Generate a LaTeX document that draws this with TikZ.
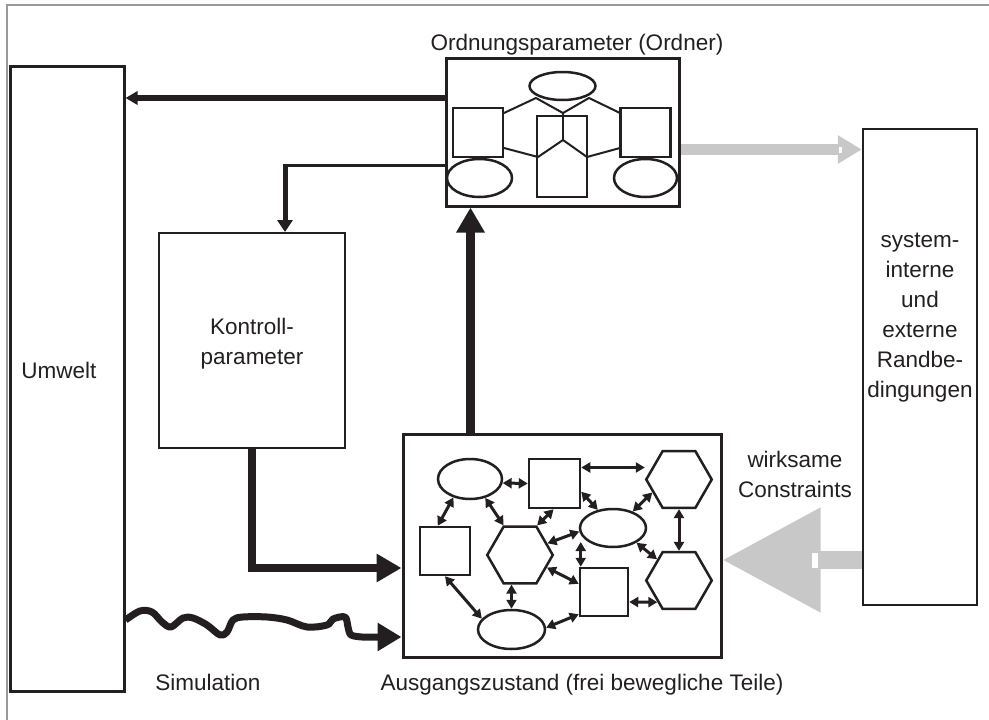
\documentclass[tikz,border=0pt]{standalone}
\usepackage{fontspec}
\setmainfont{Liberation Sans}
\usetikzlibrary{arrows.meta,shapes.geometric}
\definecolor{ink}{HTML}{231F20}
\definecolor{shade}{HTML}{C8C8C8}
\definecolor{framegray}{HTML}{9A9A9A}

\begin{document}
\begin{tikzpicture}[x=1pt,y=-1pt,
  lbl/.style={text=ink, font=\fontsize{22.5}{30}\selectfont, inner sep=0pt},
  box/.style={draw=ink, line width=2.5pt, inner sep=0pt, rectangle},
  part/.style={draw=ink, line width=2.5pt, inner sep=0pt},
  sq/.style={part, rectangle},
  ell/.style={part, ellipse},
  hex/.style={part, regular polygon, regular polygon sides=6, minimum size=65.5pt},
  link/.style={draw=ink, line width=2pt, line join=round},
  dbl/.style={draw=ink, line width=3pt, {Triangle[length=9pt,width=10pt]}-{Triangle[length=9pt,width=10pt]}},
  flow/.style={draw=ink, line cap=butt, line join=miter},
  greyflow/.style={draw=shade, line cap=butt},
]
\useasboundingbox (0,0) rectangle (989,720);

% page frame (top and left edge only)
\draw[framegray, line width=1.5pt] (989,5) -- (7,5) -- (7,720);

% main boxes
\node[box, line width=3pt, minimum width=114pt, minimum height=625pt] (Umwelt) at (67,378.5) {};
\node[box, line width=3pt, minimum width=233pt, minimum height=148pt] (Ordner) at (562.5,132) {};
\node[box, line width=2pt, minimum width=186pt, minimum height=215pt] (Kontroll) at (252,340.5) {};
\node[box, line width=3pt, minimum width=318pt, minimum height=223pt] (Ausgang) at (562,545.5) {};
\node[box, line width=2.5pt, minimum width=114pt, minimum height=476pt] (Rand) at (920,367) {};

% labels
\node[lbl, anchor=base] (tUmwelt) at (59,378) {Umwelt};
\node[lbl, align=center] (tKontroll) at (252,344) {Kontroll-\\parameter};
\node[lbl, anchor=base] (tOrdner) at (577,50.5) {Ordnungsparameter (Ordner)};
\node[lbl, anchor=base] (tAusgang) at (582,690) {Ausgangszustand (frei bewegliche Teile)};
\node[lbl, anchor=base] (tSim) at (208,690) {Simulation};
\node[lbl, align=center] (tRand) at (920,318)
  {system-\\interne\\und\\externe\\Randbe-\\dingungen};
\node[lbl, align=center] (tConstr) at (795,474)
  {wirksame\\Constraints};

% order parameter pictogram
\node[ell, minimum width=66pt, minimum height=28pt] (oTop) at (562.5,86) {};
\node[sq, minimum width=50pt, minimum height=49pt] (oLeft) at (478,132.5) {};
\node[sq, minimum width=50pt, minimum height=49pt] (oRight) at (645.5,132.5) {};
\node[sq, minimum width=50pt, minimum height=81pt] (oMid) at (562,156.5) {};
\node[ell, minimum width=65pt, minimum height=38pt] (oBL) at (479.5,178) {};
\node[ell, minimum width=63pt, minimum height=38pt] (oBR) at (645.5,178) {};
\draw[link] (504,113) -- (536,98) -- (563,113) -- (589,98) -- (620,113);
\draw[link] (563,113) -- (563,140);
\draw[link] (504,148) -- (538,157) -- (563,140) -- (587,157) -- (620,148);

% freely moving parts
\node[ell, minimum width=64pt, minimum height=40pt] (e1) at (470,479) {};
\node[sq, minimum width=51pt, minimum height=49pt] (s1) at (554.5,483.5) {};
\node[hex] (h1) at (679,479.5) {};
\node[sq, minimum width=50pt, minimum height=48pt] (s2) at (445,551) {};
\node[hex] (h2) at (520,555) {};
\node[ell, minimum width=66pt, minimum height=38pt] (e2) at (613,528) {};
\node[hex] (h3) at (679,580.5) {};
\node[sq, minimum width=48pt, minimum height=48pt] (s3) at (604,592) {};
\node[ell, minimum width=67pt, minimum height=39pt] (e3) at (511.5,629.5) {};

\draw[dbl] (e1.353) -- (s1.west);
\draw[dbl] ([yshift=16pt]s1.east) -- ([yshift=12pt]h1.west);
\draw[dbl] (e1.228) -- (s2.106);
\draw[dbl] (e1.309) -- (h2.119);
\draw[dbl] (s1.268) -- (h2.60);
\draw[dbl] (s1.343) -- (e2.130);
\draw[dbl] (h1.206) -- (e2.40);
\draw[dbl] (h1.south) -- (h3.north);
\draw[dbl] (h2.23) -- (e2.186);
\draw[dbl] (e2.328) -- (h3.136);
\draw[dbl] ([xshift=2pt,yshift=-14pt]e2.west) -- ([xshift=2pt]s3.north west);
\draw[dbl] (h2.335) -- (s3.162);
\draw[dbl] (e3.north |- h2.south) -- (e3.north);
\draw[dbl] (s2.south) -- (e3.160);
\draw[dbl] (e3.3) -- ([yshift=3pt]s3.south west);
\draw[dbl] ([yshift=-10pt]s3.east) -- (h3.225);

% connectors between the main boxes
\coordinate (ow1) at ([yshift=34pt]Ordner.west);
\draw[flow, line width=6pt, -{Triangle[length=12pt,width=13pt]}] (ow1) -- (ow1 -| Umwelt.east);

\coordinate (ow2) at ([yshift=-33pt]Ordner.west);
\coordinate (kn) at ([xshift=33pt]Kontroll.north);
\coordinate (bend) at (ow2 -| kn);
\draw[flow, line width=3pt] (ow2) -- ([xshift=-2.5pt]bend);
\draw[flow, line width=5pt, -{Triangle[length=12pt,width=15pt]}] ([yshift=1.5pt]bend) -- (kn);

\coordinate (aw1) at ([yshift=-22.5pt]Ausgang.west);
\draw[flow, line width=8pt, -{Triangle[length=25pt,width=27pt]}] (Kontroll.south) |- (aw1);

\coordinate (ue) at ([yshift=-241.5pt]Umwelt.east);
\coordinate (aw2) at ([yshift=-91.5pt]Ausgang.west);
\draw[flow, line width=7pt, line join=round, -{Triangle[length=24pt,width=27pt]}]
  plot[smooth, tension=0.55] coordinates {(ue) (140,611) (152,612) (162,622) (171,627)
    (183,618) (193,618) (207,625) (220,635) (227,632) (233,620) (243,617) (267,617)
    (287,620) (307,627) (327,625) (333,619) (345,617) (348,627) (351,635) (362,637)} -- (aw2);

\coordinate (an) at ([xshift=-91.5pt]Ausgang.north);
\draw[flow, line width=9pt, -{Triangle[length=25pt,width=27pt]}] (an) -- (an |- Ordner.south);

% grey arrows to and from the boundary conditions
\coordinate (oe) at ([yshift=-17.5pt]Ordner.east);
\coordinate (rt) at (oe -| Rand.west);
\draw[greyflow, line width=11pt, -{Triangle[length=24pt,width=27pt]}] (oe) -- (rt);
\fill[white] ([xshift=-23pt,yshift=-3pt]rt) rectangle ([xshift=-19.5pt,yshift=3pt]rt);

\coordinate (rw) at ([yshift=-193pt]Rand.west);
\draw[greyflow, line width=18pt, -{Triangle[length=98pt,width=100pt]}] (rw) -- (rw -| Ausgang.east);
\fill[white] ([xshift=-50pt,yshift=-7.5pt]rw) rectangle ([xshift=-44pt,yshift=7.5pt]rw);
\end{tikzpicture}
\end{document}
